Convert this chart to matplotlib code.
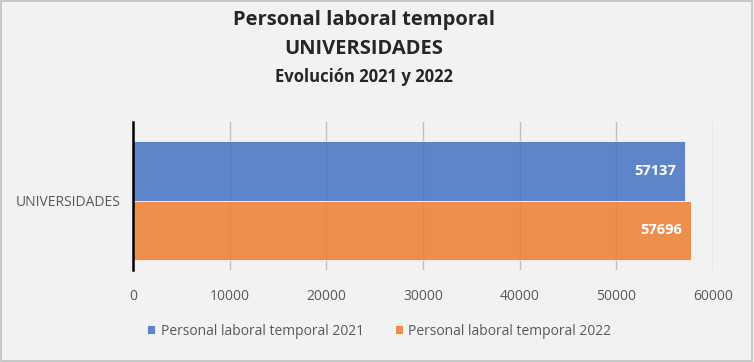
import matplotlib.pyplot as plt
from matplotlib.patches import Rectangle

categories = ["UNIVERSIDADES"]
series_names = ["Personal laboral temporal 2021", "Personal laboral temporal 2022"]
values_2021 = [57137]
values_2022 = [57696]
colors = ["#4472c4", "#ed7d31"]
xticks = [0, 10000, 20000, 30000, 40000, 50000, 60000]

plt.rcParams["font.family"] = ["Open Sans", "DejaVu Sans"]

fig = plt.figure(figsize=(7.54, 3.62), dpi=100, facecolor="#f2f2f2")
ax = fig.add_axes([0.1764, 0.254, 0.7692, 0.409])
ax.set_facecolor("#f2f2f2")

h = 0.4
for vals, name, col, off in [(values_2021, series_names[0], colors[0], h / 2),
                             (values_2022, series_names[1], colors[1], -h / 2)]:
    ys = [i + off for i in range(len(categories))]
    bars = ax.barh(ys, vals, height=h, color=col, alpha=0.85, label=name,
                   edgecolor="white", linewidth=0.6, zorder=2)
    for b, v in zip(bars, vals):
        ax.text(b.get_width() - 900, b.get_y() + b.get_height() / 2, str(v),
                ha="right", va="center", color="white", fontsize=10.5,
                fontweight="bold", zorder=3)

ax.set_xlim(0, 60000)
ax.set_ylim(-0.467, 0.528)
ax.set_xticks(xticks)
ax.set_xticklabels([str(t) for t in xticks], color="#595959", fontsize=10)
ax.set_yticks(range(len(categories)))
ax.set_yticklabels(categories, color="#595959", fontsize=10)
ax.tick_params(length=0)
ax.tick_params(axis="x", pad=14)
ax.tick_params(axis="y", pad=9)
ax.xaxis.grid(True, color="#bfbfbf", linewidth=1, zorder=0)
ax.set_axisbelow(True)
for s in ["top", "right", "bottom"]:
    ax.spines[s].set_visible(False)
ax.spines["left"].set_color("black")
ax.spines["left"].set_linewidth(1.8)
ax.spines["left"].set_zorder(4)

fig.text(0.483, 0.945, "Personal laboral temporal", ha="center", va="center",
         fontsize=14.5, fontweight="bold", color="#262626")
fig.text(0.483, 0.865, "UNIVERSIDADES", ha="center", va="center",
         fontsize=14.5, fontweight="bold", color="#262626")
fig.text(0.483, 0.787, "Evolución 2021 y 2022", ha="center", va="center",
         fontsize=12, fontweight="bold", color="#262626")

leg = fig.legend(loc="center", bbox_to_anchor=(0.503, 0.085), ncol=2,
                 frameon=False, fontsize=10, handlelength=0.6, handleheight=0.6,
                 handletextpad=0.4, columnspacing=2.2)
for t in leg.get_texts():
    t.set_color("#595959")

fig.patches.append(Rectangle((0.001, 0.002), 0.997, 0.995, transform=fig.transFigure,
                             fill=False, edgecolor="#c0c0c0", linewidth=1.2))

fig.savefig("out.png", dpi=100, facecolor=fig.get_facecolor())
